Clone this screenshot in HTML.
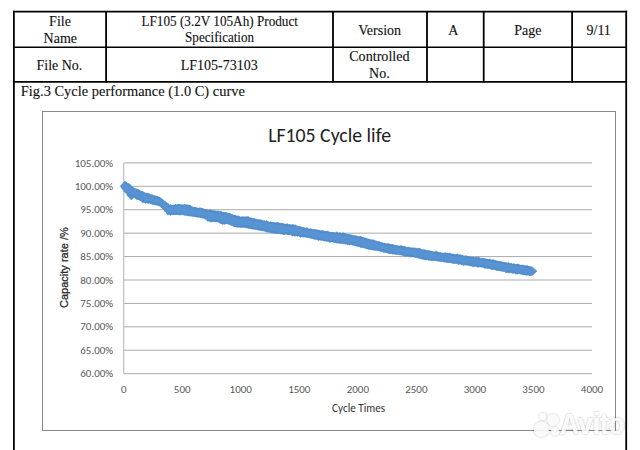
<!DOCTYPE html>
<html><head><meta charset="utf-8"><style>
html,body{margin:0;padding:0;background:#fff;}
body{width:640px;height:450px;overflow:hidden;position:relative;}
svg{position:absolute;left:0;top:0;}
.serif{font-family:"Liberation Serif","Times New Roman",serif;font-size:14px;fill:#111;stroke:#111;stroke-width:0.12px;}
.cal{font-family:Carlito,"Liberation Sans",sans-serif;}
</style></head><body>
<svg width="640" height="450" viewBox="0 0 640 450">
<g stroke="#000" stroke-width="1.8" fill="none">
<line x1="13" y1="11.7" x2="627.2" y2="11.7"/>
<line x1="13.9" y1="10.8" x2="13.9" y2="450"/>
<line x1="626.2" y1="10.8" x2="626.2" y2="450"/>
<line x1="13" y1="47.3" x2="627" y2="47.3" stroke-width="1.6"/>
<line x1="13" y1="81.9" x2="627" y2="81.9"/>
<line x1="106.1" y1="11" x2="106.1" y2="82.5"/>
<line x1="333" y1="11" x2="333" y2="82.5"/>
<line x1="427" y1="11" x2="427" y2="82.5"/>
<line x1="483.7" y1="11" x2="483.7" y2="82.5"/>
<line x1="572.1" y1="11" x2="572.1" y2="82.5"/>
</g>
<g class="serif" text-anchor="middle">
<text x="60" y="25.8">File</text>
<text x="60.3" y="42.6">Name</text>
<text x="219.7" y="26" textLength="156.5" lengthAdjust="spacingAndGlyphs">LF105 (3.2V 105Ah) Product</text>
<text x="219.6" y="41.8" textLength="69" lengthAdjust="spacingAndGlyphs">Specification</text>
<text x="379.7" y="34.6">Version</text>
<text x="453.3" y="34.6">A</text>
<text x="527.8" y="34.6">Page</text>
<text x="598.7" y="34.6">9/11</text>
<text x="59.4" y="69.8">File No.</text>
<text x="219.2" y="69.6">LF105-73103</text>
<text x="379.4" y="60.6" textLength="60.5" lengthAdjust="spacingAndGlyphs">Controlled</text>
<text x="379.4" y="77.5">No.</text>
</g>
<text class="serif" x="20.8" y="96.2" style="font-size:14.4px" textLength="224" lengthAdjust="spacing">Fig.3 Cycle performance (1.0 C) curve</text>
<rect x="42.5" y="111.5" width="573" height="319" fill="none" stroke="#8a8a8a" stroke-width="1"/>
<text class="cal" x="329.6" y="141.9" text-anchor="middle" font-size="19.8" fill="#222" textLength="122.9" lengthAdjust="spacingAndGlyphs">LF105 Cycle life</text>
<g stroke="#aaa" stroke-width="1">
<line x1="123.67" y1="162.90" x2="592" y2="162.90"/><line x1="123.67" y1="186.32" x2="592" y2="186.32"/><line x1="123.67" y1="209.74" x2="592" y2="209.74"/><line x1="123.67" y1="233.16" x2="592" y2="233.16"/><line x1="123.67" y1="256.58" x2="592" y2="256.58"/><line x1="123.67" y1="280.00" x2="592" y2="280.00"/><line x1="123.67" y1="303.42" x2="592" y2="303.42"/><line x1="123.67" y1="326.84" x2="592" y2="326.84"/><line x1="123.67" y1="350.26" x2="592" y2="350.26"/><line x1="123.67" y1="373.68" x2="592" y2="373.68"/>
</g>
<line x1="123.67" y1="162.90" x2="123.67" y2="373.68" stroke="#c2c2c2" stroke-width="1.3"/>
<g class="cal" font-size="11" fill="#595959" text-anchor="end">
<text x="113.2" y="166.50" textLength="38.52" lengthAdjust="spacingAndGlyphs">105.00%</text><text x="113.2" y="189.92" textLength="38.52" lengthAdjust="spacingAndGlyphs">100.00%</text><text x="113.2" y="213.34" textLength="32.94" lengthAdjust="spacingAndGlyphs">95.00%</text><text x="113.2" y="236.76" textLength="32.94" lengthAdjust="spacingAndGlyphs">90.00%</text><text x="113.2" y="260.18" textLength="32.94" lengthAdjust="spacingAndGlyphs">85.00%</text><text x="113.2" y="283.60" textLength="32.94" lengthAdjust="spacingAndGlyphs">80.00%</text><text x="113.2" y="307.02" textLength="32.94" lengthAdjust="spacingAndGlyphs">75.00%</text><text x="113.2" y="330.44" textLength="32.94" lengthAdjust="spacingAndGlyphs">70.00%</text><text x="113.2" y="353.86" textLength="32.94" lengthAdjust="spacingAndGlyphs">65.00%</text><text x="113.2" y="377.28" textLength="32.94" lengthAdjust="spacingAndGlyphs">60.00%</text>
</g>
<g class="cal" font-size="11" fill="#595959" text-anchor="middle">
<text x="123.67" y="393.2" textLength="5.58" lengthAdjust="spacingAndGlyphs">0</text><text x="182.21" y="393.2" textLength="16.73" lengthAdjust="spacingAndGlyphs">500</text><text x="240.75" y="393.2" textLength="22.3" lengthAdjust="spacingAndGlyphs">1000</text><text x="299.29" y="393.2" textLength="22.3" lengthAdjust="spacingAndGlyphs">1500</text><text x="357.83" y="393.2" textLength="22.3" lengthAdjust="spacingAndGlyphs">2000</text><text x="416.38" y="393.2" textLength="22.3" lengthAdjust="spacingAndGlyphs">2500</text><text x="474.92" y="393.2" textLength="22.3" lengthAdjust="spacingAndGlyphs">3000</text><text x="533.46" y="393.2" textLength="22.3" lengthAdjust="spacingAndGlyphs">3500</text><text x="592.00" y="393.2" textLength="22.3" lengthAdjust="spacingAndGlyphs">4000</text>
</g>
<text class="cal" x="358.6" y="411.6" text-anchor="middle" font-size="11.6" fill="#333" textLength="53" lengthAdjust="spacingAndGlyphs">Cycle Times</text>
<text transform="translate(67.7,267.6) rotate(-90)" text-anchor="middle" font-family="Liberation Sans, Arial, sans-serif" font-size="11" fill="#262626" stroke="#262626" stroke-width="0.25">Capacity rate /%</text>
<path d="M120.20 186.30L124.80 181.10L133.75 188.10L143.10 192.30L152.50 195.20L160.00 197.50L165.60 202.20L169.70 205.50L174.40 205.00L179.10 204.50L188.40 205.00L193.10 207.30L202.50 208.75L209.00 210.20L217.50 211.10L222.50 212.25L230.00 213.75L238.75 216.90L245.00 216.90L257.50 219.40L270.00 222.50L280.00 223.10L290.00 225.00L297.50 226.00L307.50 228.75L320.00 230.60L332.50 232.50L345.00 233.75L357.50 236.25L367.50 238.75L377.50 241.50L385.00 243.50L395.00 245.25L407.50 247.50L417.50 248.50L430.00 251.25L440.00 252.75L450.00 253.75L460.00 255.25L470.00 256.90L482.50 258.50L495.00 260.60L507.50 263.10L518.75 265.00L528.10 266.40L532.30 266.90L537.00 271.20L532.30 275.50L526.25 274.80L518.75 273.60L507.50 272.25L495.00 269.75L482.50 267.25L470.00 265.60L457.50 263.75L445.00 261.90L435.00 260.60L423.75 259.40L413.75 256.90L401.25 255.00L388.75 253.10L377.50 250.60L370.00 249.20L362.50 247.50L351.25 244.40L341.25 243.50L332.50 241.90L320.00 240.00L307.50 237.50L300.00 236.25L292.50 235.00L282.50 233.75L272.50 233.10L263.75 231.00L255.00 229.40L245.00 227.50L235.00 226.90L232.50 225.60L227.50 223.75L222.20 223.75L217.50 221.90L209.00 221.00L204.40 218.10L193.10 216.25L183.75 214.80L174.40 214.40L167.80 214.80L165.60 211.60L160.00 206.00L152.50 204.00L142.20 201.70L136.60 198.40L128.10 195.20L124.40 191.90ZM126.8 195.3L131.5 190.6L136.2 195.3L131.5 200.0ZM125.2 182.9L126.0 182.1L126.8 182.9L126.0 183.7ZM125.0 192.1L126.1 191.0L127.2 192.1L126.1 193.2ZM126.9 184.0L127.5 183.4L128.1 184.0L127.5 184.7ZM126.8 193.8L127.6 193.0L128.4 193.8L127.6 194.5ZM127.3 184.6L128.6 183.3L129.9 184.6L128.6 185.9ZM128.0 195.1L128.7 194.4L129.4 195.1L128.7 195.9ZM129.0 185.6L130.0 184.6L131.1 185.6L130.0 186.6ZM129.4 195.3L130.1 194.6L130.7 195.3L130.1 195.9ZM130.1 186.4L130.9 185.5L131.8 186.4L130.9 187.2ZM130.4 196.1L131.3 195.1L132.3 196.1L131.3 197.1ZM131.6 187.9L132.8 186.8L133.9 187.9L132.8 189.1ZM131.2 196.7L132.5 195.4L133.7 196.7L132.5 197.9ZM132.3 189.3L133.6 188.0L134.9 189.3L133.6 190.6ZM133.3 196.6L134.1 195.8L134.9 196.6L134.1 197.3ZM133.9 189.4L135.0 188.3L136.1 189.4L135.0 190.5ZM134.1 197.2L135.0 196.3L135.9 197.2L135.0 198.1ZM135.6 189.8L136.6 188.7L137.7 189.8L136.6 190.8ZM135.3 198.2L136.6 196.9L138.0 198.2L136.6 199.6ZM136.4 190.1L137.5 189.0L138.6 190.1L137.5 191.3ZM136.6 198.4L137.9 197.1L139.3 198.4L137.9 199.8ZM137.7 190.8L138.8 189.6L140.0 190.8L138.8 191.9ZM137.8 198.6L138.9 197.5L139.9 198.6L138.9 199.6ZM139.3 192.2L140.6 191.0L141.9 192.2L140.6 193.5ZM139.0 199.5L140.2 198.2L141.5 199.5L140.2 200.7ZM140.9 191.9L141.8 191.0L142.6 191.9L141.8 192.7ZM141.0 200.1L141.7 199.5L142.3 200.1L141.7 200.7ZM141.6 192.5L142.8 191.3L144.0 192.5L142.8 193.6ZM141.5 201.8L142.9 200.4L144.3 201.8L142.9 203.1ZM143.1 193.2L143.9 192.4L144.8 193.2L143.9 194.1ZM143.4 201.3L144.0 200.7L144.6 201.3L144.0 202.0ZM144.2 194.3L145.3 193.2L146.4 194.3L145.3 195.4ZM144.1 202.3L145.4 201.0L146.7 202.3L145.4 203.6ZM145.4 194.2L146.7 192.9L148.0 194.2L146.7 195.5ZM145.9 202.1L146.9 201.1L147.9 202.1L146.9 203.2ZM147.1 194.0L148.2 193.0L149.2 194.0L148.2 195.1ZM147.1 202.6L148.1 201.6L149.1 202.6L148.1 203.6ZM148.5 194.4L149.3 193.6L150.1 194.4L149.3 195.2ZM148.4 202.0L149.4 201.0L150.4 202.0L149.4 203.0ZM149.8 195.9L150.7 195.0L151.7 195.9L150.7 196.9ZM149.7 202.4L150.8 201.3L151.9 202.4L150.8 203.5ZM150.9 195.5L152.0 194.4L153.1 195.5L152.0 196.6ZM151.2 203.5L152.1 202.6L153.0 203.5L152.1 204.4ZM152.4 195.9L153.0 195.3L153.7 195.9L153.0 196.6ZM151.8 203.5L153.2 202.1L154.5 203.5L153.2 204.8ZM153.4 196.7L154.5 195.6L155.6 196.7L154.5 197.8ZM153.7 204.0L154.5 203.1L155.4 204.0L154.5 204.8ZM155.0 196.6L155.8 195.8L156.7 196.6L155.8 197.5ZM155.3 204.5L155.9 203.9L156.6 204.5L155.9 205.1ZM156.2 197.0L157.0 196.1L157.9 197.0L157.0 197.8ZM156.2 204.5L157.0 203.7L157.8 204.5L157.0 205.3ZM157.1 198.0L158.3 196.8L159.4 198.0L158.3 199.1ZM157.8 204.8L158.7 204.0L159.6 204.8L158.7 205.7ZM158.3 198.3L159.6 197.1L160.9 198.3L159.6 199.6ZM158.9 205.2L160.0 204.1L161.2 205.2L160.0 206.3ZM160.1 199.1L160.9 198.3L161.7 199.1L160.9 199.9ZM160.5 206.8L161.3 206.1L162.0 206.8L161.3 207.6ZM161.5 199.8L162.3 199.1L163.0 199.8L162.3 200.6ZM161.5 207.5L162.6 206.4L163.7 207.5L162.6 208.6ZM162.9 201.0L163.6 200.2L164.3 201.0L163.6 201.7ZM162.8 208.9L163.6 208.1L164.4 208.9L163.6 209.7ZM164.0 201.9L164.9 201.0L165.9 201.9L164.9 202.8ZM164.0 210.8L164.7 210.1L165.4 210.8L164.7 211.6ZM165.3 203.5L166.6 202.2L167.9 203.5L166.6 204.8ZM165.2 211.6L166.6 210.2L167.9 211.6L166.6 212.9ZM166.6 204.3L167.8 203.1L169.0 204.3L167.8 205.5ZM166.5 213.6L167.5 212.6L168.5 213.6L167.5 214.6ZM167.9 205.4L168.6 204.7L169.4 205.4L168.6 206.2ZM168.3 213.5L169.1 212.7L169.9 213.5L169.1 214.3ZM169.0 205.6L170.3 204.3L171.6 205.6L170.3 207.0ZM169.1 214.0L170.4 212.7L171.8 214.0L170.4 215.4ZM171.0 206.4L171.6 205.8L172.3 206.4L171.6 207.0ZM170.8 213.9L171.6 213.1L172.4 213.9L171.6 214.7ZM172.1 205.7L173.1 204.8L174.0 205.7L173.1 206.7ZM171.8 214.2L172.7 213.4L173.5 214.2L172.7 215.1ZM173.3 205.9L174.3 204.9L175.3 205.9L174.3 206.9ZM173.4 214.1L174.1 213.3L174.9 214.1L174.1 214.9ZM174.8 205.1L175.6 204.4L176.3 205.1L175.6 205.8ZM174.3 213.2L175.6 211.9L176.8 213.2L175.6 214.4ZM175.8 206.0L176.9 204.9L178.0 206.0L176.9 207.1ZM175.7 213.8L176.6 213.0L177.4 213.8L176.6 214.6ZM177.0 205.0L178.0 204.0L178.9 205.0L178.0 205.9ZM177.1 213.4L177.7 212.8L178.3 213.4L177.7 214.0ZM178.3 204.6L179.0 203.9L179.7 204.6L179.0 205.3ZM177.8 213.9L179.1 212.6L180.3 213.9L179.1 215.2ZM179.6 205.5L180.5 204.6L181.3 205.5L180.5 206.3ZM179.5 213.8L180.7 212.7L181.8 213.8L180.7 214.9ZM181.0 205.8L181.8 205.0L182.6 205.8L181.8 206.6ZM181.0 213.9L182.0 212.8L183.1 213.9L182.0 214.9ZM182.3 205.6L183.0 204.9L183.7 205.6L183.0 206.2ZM182.3 213.9L183.4 212.8L184.5 213.9L183.4 215.0ZM183.3 205.6L184.6 204.3L185.8 205.6L184.6 206.8ZM183.6 214.5L184.5 213.6L185.4 214.5L184.5 215.4ZM185.0 205.6L185.9 204.7L186.9 205.6L185.9 206.5ZM185.0 214.7L185.8 213.9L186.6 214.7L185.8 215.4ZM186.4 205.7L187.1 205.1L187.7 205.7L187.1 206.4ZM186.1 214.5L187.4 213.2L188.7 214.5L187.4 215.8ZM187.3 206.0L188.6 204.7L189.9 206.0L188.6 207.3ZM187.2 215.2L188.2 214.2L189.1 215.2L188.2 216.2ZM188.8 206.0L189.9 204.9L191.1 206.0L189.9 207.1ZM188.7 215.1L189.8 214.0L191.0 215.1L189.8 216.2ZM190.4 207.6L191.1 206.9L191.7 207.6L191.1 208.2ZM190.4 214.7L191.2 214.0L191.9 214.7L191.2 215.4ZM191.4 207.2L192.1 206.5L192.7 207.2L192.1 207.8ZM191.3 215.8L192.0 215.1L192.8 215.8L192.0 216.6ZM193.1 207.9L193.8 207.2L194.5 207.9L193.8 208.6ZM192.6 215.7L193.9 214.5L195.1 215.7L193.9 217.0ZM193.4 208.0L194.6 206.7L195.9 208.0L194.6 209.2ZM194.0 215.4L195.0 214.4L196.0 215.4L195.0 216.4ZM195.3 209.0L196.5 207.8L197.7 209.0L196.5 210.2ZM195.4 216.5L196.2 215.6L197.1 216.5L196.2 217.3ZM196.5 209.0L197.3 208.2L198.1 209.0L197.3 209.8ZM196.6 216.1L197.7 215.1L198.7 216.1L197.7 217.2ZM197.8 209.1L198.7 208.2L199.6 209.1L198.7 210.0ZM197.6 216.5L198.5 215.5L199.5 216.5L198.5 217.4ZM198.7 208.8L200.0 207.4L201.4 208.8L200.0 210.2ZM199.5 217.0L200.2 216.3L200.9 217.0L200.2 217.7ZM200.3 209.3L201.4 208.2L202.5 209.3L201.4 210.4ZM200.5 216.5L201.6 215.4L202.8 216.5L201.6 217.6ZM202.2 209.0L202.8 208.3L203.5 209.0L202.8 209.7ZM201.7 217.4L202.7 216.4L203.7 217.4L202.7 218.4ZM203.1 210.1L203.9 209.4L204.6 210.1L203.9 210.9ZM202.8 217.0L203.9 215.9L205.0 217.0L203.9 218.1ZM204.4 210.3L205.6 209.2L206.7 210.3L205.6 211.5ZM204.1 218.4L205.2 217.2L206.4 218.4L205.2 219.6ZM205.4 210.7L206.5 209.6L207.5 210.7L206.5 211.8ZM206.0 218.6L206.6 218.0L207.2 218.6L206.6 219.3ZM207.1 210.9L207.8 210.1L208.6 210.9L207.8 211.6ZM206.5 220.2L207.7 219.0L208.9 220.2L207.7 221.4ZM208.3 211.0L209.3 210.0L210.2 211.0L209.3 211.9ZM208.1 220.4L209.4 219.1L210.7 220.4L209.4 221.7ZM209.6 210.6L210.6 209.6L211.6 210.6L210.6 211.6ZM209.7 221.0L210.6 220.1L211.6 221.0L210.6 221.9ZM210.7 211.5L211.6 210.5L212.6 211.5L211.6 212.5ZM210.7 221.1L211.9 220.0L213.1 221.1L211.9 222.3ZM211.7 211.7L212.9 210.4L214.2 211.7L212.9 213.0ZM212.1 221.0L212.9 220.2L213.7 221.0L212.9 221.8ZM213.4 211.8L214.6 210.5L215.9 211.8L214.6 213.1ZM213.0 220.8L214.3 219.5L215.6 220.8L214.3 222.1ZM214.3 212.1L215.5 210.9L216.6 212.1L215.5 213.3ZM214.3 220.8L215.6 219.6L216.8 220.8L215.6 222.1ZM216.0 212.3L217.1 211.3L218.2 212.3L217.1 213.4ZM216.1 221.1L217.0 220.3L217.8 221.1L217.0 222.0ZM217.6 211.4L218.4 210.7L219.1 211.4L218.4 212.2ZM217.4 221.1L218.3 220.1L219.2 221.1L218.3 222.0ZM218.9 212.7L219.7 211.9L220.5 212.7L219.7 213.6ZM218.5 221.5L219.8 220.2L221.2 221.5L219.8 222.9ZM219.5 212.3L220.8 210.9L222.2 212.3L220.8 213.6ZM219.6 222.7L220.8 221.5L222.0 222.7L220.8 224.0ZM221.3 213.2L222.4 212.0L223.5 213.2L222.4 214.3ZM221.3 223.3L222.5 222.1L223.7 223.3L222.5 224.5ZM222.2 213.2L223.3 212.1L224.3 213.2L223.3 214.2ZM222.7 223.3L223.6 222.4L224.5 223.3L223.6 224.1ZM223.6 213.2L224.6 212.2L225.7 213.2L224.6 214.3ZM223.5 223.5L224.6 222.4L225.7 223.5L224.6 224.6ZM224.7 213.2L225.9 212.0L227.0 213.2L225.9 214.3ZM225.3 223.3L226.0 222.6L226.7 223.3L226.0 224.0ZM226.4 213.8L227.4 212.7L228.5 213.8L227.4 214.8ZM226.3 222.7L227.3 221.7L228.3 222.7L227.3 223.6ZM228.2 213.9L228.8 213.2L229.5 213.9L228.8 214.5ZM227.8 223.3L228.8 222.3L229.9 223.3L228.8 224.4ZM229.1 214.0L229.9 213.2L230.7 214.0L229.9 214.8ZM229.4 223.7L230.0 223.0L230.6 223.7L230.0 224.3ZM230.0 215.1L231.2 213.9L232.4 215.1L231.2 216.3ZM230.4 224.8L231.3 223.9L232.2 224.8L231.3 225.7ZM231.9 215.9L232.8 215.0L233.7 215.9L232.8 216.7ZM231.5 224.5L232.4 223.7L233.2 224.5L232.4 225.3ZM232.8 216.2L234.0 215.0L235.3 216.2L234.0 217.5ZM233.1 225.9L233.8 225.2L234.6 225.9L233.8 226.7ZM234.1 216.2L235.3 215.0L236.6 216.2L235.3 217.5ZM234.4 225.8L235.1 225.1L235.9 225.8L235.1 226.6ZM235.5 217.1L236.5 216.1L237.6 217.1L236.5 218.2ZM235.9 225.7L236.7 224.9L237.5 225.7L236.7 226.5ZM236.8 216.7L238.0 215.5L239.3 216.7L238.0 218.0ZM236.9 226.5L237.8 225.6L238.7 226.5L237.8 227.4ZM238.3 217.4L239.4 216.3L240.5 217.4L239.4 218.5ZM238.5 226.4L239.3 225.6L240.2 226.4L239.3 227.3ZM239.5 218.2L240.5 217.1L241.6 218.2L240.5 219.3ZM239.3 226.5L240.5 225.3L241.7 226.5L240.5 227.7ZM240.7 218.0L241.7 216.9L242.7 218.0L241.7 219.0ZM240.4 226.6L241.4 225.6L242.4 226.6L241.4 227.6ZM241.8 217.5L243.0 216.4L244.1 217.5L243.0 218.6ZM241.9 226.2L243.2 224.9L244.6 226.2L243.2 227.6ZM243.1 218.1L244.4 216.9L245.6 218.1L244.4 219.4ZM243.3 226.3L244.1 225.4L245.0 226.3L244.1 227.1ZM244.8 217.9L245.9 216.9L246.9 217.9L245.9 219.0ZM244.4 226.5L245.7 225.2L247.0 226.5L245.7 227.8ZM245.7 217.5L247.0 216.2L248.2 217.5L247.0 218.8ZM245.9 227.0L247.0 225.8L248.2 227.0L247.0 228.1ZM247.2 217.8L248.5 216.6L249.7 217.8L248.5 219.1ZM247.4 227.4L248.4 226.4L249.3 227.4L248.4 228.3ZM248.5 219.0L249.2 218.3L249.9 219.0L249.2 219.7ZM248.5 227.7L249.3 226.9L250.1 227.7L249.3 228.4ZM249.7 218.9L250.8 217.7L252.0 218.9L250.8 220.0ZM249.6 227.9L250.7 226.7L251.8 227.9L250.7 229.0ZM250.8 219.4L252.0 218.2L253.2 219.4L252.0 220.6ZM250.9 228.0L252.2 226.7L253.6 228.0L252.2 229.3ZM252.5 219.2L253.4 218.3L254.3 219.2L253.4 220.1ZM252.3 228.0L253.1 227.3L253.9 228.0L253.1 228.8ZM253.3 219.6L254.5 218.4L255.7 219.6L254.5 220.8ZM253.8 228.2L254.5 227.5L255.3 228.2L254.5 229.0ZM254.9 220.4L255.8 219.4L256.7 220.4L255.8 221.3ZM255.1 228.9L255.8 228.2L256.5 228.9L255.8 229.6ZM256.4 220.1L257.0 219.5L257.7 220.1L257.0 220.8ZM256.5 228.6L257.4 227.7L258.3 228.6L257.4 229.5ZM257.6 220.9L258.5 220.0L259.5 220.9L258.5 221.9ZM257.1 228.9L258.4 227.5L259.8 228.9L258.4 230.2ZM258.7 220.5L259.7 219.6L260.7 220.5L259.7 221.5ZM258.8 229.1L259.7 228.2L260.6 229.1L259.7 229.9ZM259.9 220.7L261.1 219.5L262.2 220.7L261.1 221.9ZM260.5 229.6L261.5 228.6L262.4 229.6L261.5 230.6ZM261.6 221.0L262.4 220.2L263.2 221.0L262.4 221.8ZM261.3 229.6L262.4 228.5L263.5 229.6L262.4 230.7ZM262.9 221.6L264.1 220.4L265.2 221.6L264.1 222.7ZM262.9 229.8L263.5 229.2L264.1 229.8L263.5 230.4ZM264.1 222.5L264.8 221.8L265.6 222.5L264.8 223.3ZM264.2 230.3L265.3 229.1L266.5 230.3L265.3 231.4ZM265.0 221.9L266.4 220.6L267.8 221.9L266.4 223.3ZM265.3 230.4L266.7 229.0L268.0 230.4L266.7 231.7ZM266.9 222.1L267.8 221.2L268.6 222.1L267.8 222.9ZM266.9 231.7L267.6 231.0L268.2 231.7L267.6 232.3ZM268.2 223.2L268.9 222.5L269.6 223.2L268.9 223.8ZM268.1 231.2L269.3 230.0L270.4 231.2L269.3 232.3ZM269.2 222.8L270.4 221.6L271.6 222.8L270.4 224.0ZM269.5 231.7L270.6 230.7L271.6 231.7L270.6 232.8ZM270.5 223.0L271.4 222.0L272.4 223.0L271.4 223.9ZM270.5 231.8L271.5 230.8L272.4 231.8L271.5 232.8ZM271.8 223.1L273.0 221.9L274.1 223.1L273.0 224.3ZM272.0 232.0L272.9 231.1L273.8 232.0L272.9 232.9ZM272.7 223.5L273.9 222.3L275.1 223.5L273.9 224.7ZM273.1 232.0L274.3 230.8L275.5 232.0L274.3 233.2ZM274.9 223.4L275.7 222.6L276.5 223.4L275.7 224.1ZM274.4 232.5L275.7 231.2L277.0 232.5L275.7 233.8ZM275.6 223.8L276.9 222.5L278.3 223.8L276.9 225.1ZM275.6 232.6L276.5 231.7L277.4 232.6L276.5 233.5ZM276.5 223.6L277.9 222.2L279.2 223.6L277.9 225.0ZM277.2 232.9L277.8 232.3L278.5 232.9L277.8 233.6ZM278.3 224.2L279.1 223.4L279.9 224.2L279.1 225.0ZM278.3 232.3L279.5 231.1L280.6 232.3L279.5 233.4ZM280.2 224.3L281.0 223.5L281.8 224.3L281.0 225.1ZM279.6 233.3L280.7 232.2L281.7 233.3L280.7 234.3ZM281.1 224.1L282.2 223.1L283.3 224.1L282.2 225.2ZM281.1 232.5L281.8 231.8L282.6 232.5L281.8 233.3ZM281.8 225.0L283.1 223.7L284.3 225.0L283.1 226.3ZM281.7 233.6L283.1 232.2L284.5 233.6L283.1 235.0ZM283.9 225.0L284.6 224.3L285.2 225.0L284.6 225.7ZM283.4 233.5L284.7 232.2L285.9 233.5L284.7 234.7ZM284.9 225.1L286.1 223.9L287.3 225.1L286.1 226.3ZM284.8 233.0L285.9 231.9L286.9 233.0L285.9 234.1ZM286.0 224.8L287.3 223.5L288.5 224.8L287.3 226.1ZM286.5 233.6L287.2 232.8L288.0 233.6L287.2 234.4ZM287.1 225.6L288.2 224.4L289.4 225.6L288.2 226.8ZM287.3 233.9L288.2 232.9L289.2 233.9L288.2 234.9ZM288.6 225.5L289.8 224.3L290.9 225.5L289.8 226.7ZM288.5 233.8L289.6 232.7L290.7 233.8L289.6 234.9ZM289.6 225.9L291.0 224.5L292.4 225.9L291.0 227.3ZM290.3 233.7L290.9 233.1L291.6 233.7L290.9 234.4ZM291.2 225.6L292.5 224.2L293.9 225.6L292.5 226.9ZM291.1 234.8L292.5 233.4L293.9 234.8L292.5 236.2ZM292.6 225.7L293.7 224.6L294.7 225.7L293.7 226.7ZM292.6 234.5L294.0 233.2L295.3 234.5L294.0 235.8ZM293.7 225.8L294.9 224.6L296.2 225.8L294.9 227.0ZM293.5 235.2L294.9 233.9L296.2 235.2L294.9 236.6ZM295.3 226.3L296.1 225.5L296.8 226.3L296.1 227.0ZM295.5 235.1L296.3 234.3L297.1 235.1L296.3 235.9ZM297.1 227.0L297.7 226.4L298.4 227.0L297.7 227.6ZM296.6 235.4L297.5 234.5L298.5 235.4L297.5 236.4ZM297.6 227.6L298.8 226.4L300.0 227.6L298.8 228.8ZM298.0 234.9L298.8 234.0L299.7 234.9L298.8 235.7ZM299.6 227.2L300.4 226.5L301.1 227.2L300.4 227.9ZM299.1 236.0L300.5 234.7L301.9 236.0L300.5 237.4ZM300.4 228.0L301.3 227.1L302.2 228.0L301.3 228.9ZM300.5 235.9L301.5 234.9L302.5 235.9L301.5 236.8ZM302.1 228.4L303.0 227.5L303.9 228.4L303.0 229.3ZM302.1 236.4L303.0 235.4L304.0 236.4L303.0 237.4ZM303.1 228.1L303.9 227.3L304.8 228.1L303.9 229.0ZM303.3 236.3L303.9 235.7L304.5 236.3L303.9 236.9ZM304.2 229.4L305.2 228.4L306.2 229.4L305.2 230.4ZM304.8 236.4L305.6 235.6L306.3 236.4L305.6 237.2ZM305.5 228.7L306.9 227.3L308.3 228.7L306.9 230.0ZM305.9 236.1L306.5 235.5L307.1 236.1L306.5 236.7ZM307.0 230.1L307.9 229.1L308.8 230.1L307.9 231.0ZM306.7 236.7L307.8 235.6L308.8 236.7L307.8 237.7ZM308.7 229.8L309.5 229.0L310.3 229.8L309.5 230.6ZM308.2 237.1L309.0 236.3L309.8 237.1L309.0 237.9ZM309.6 229.4L310.7 228.3L311.8 229.4L310.7 230.5ZM309.2 237.0L310.4 235.7L311.7 237.0L310.4 238.2ZM310.9 230.1L312.1 228.9L313.3 230.1L312.1 231.3ZM310.7 237.4L311.9 236.2L313.2 237.4L311.9 238.7ZM312.2 230.1L312.9 229.4L313.6 230.1L312.9 230.9ZM312.1 237.9L313.4 236.6L314.8 237.9L313.4 239.2ZM313.6 230.1L314.8 229.0L315.9 230.1L314.8 231.2ZM313.4 238.2L314.4 237.1L315.5 238.2L314.4 239.3ZM314.9 230.5L315.6 229.7L316.3 230.5L315.6 231.2ZM314.4 238.3L315.8 237.0L317.2 238.3L315.8 239.7ZM316.2 230.5L317.1 229.6L318.0 230.5L317.1 231.4ZM316.4 238.3L317.4 237.3L318.3 238.3L317.4 239.3ZM317.6 231.2L318.4 230.3L319.3 231.2L318.4 232.0ZM317.3 239.5L318.6 238.2L319.9 239.5L318.6 240.8ZM318.3 231.2L319.4 230.1L320.5 231.2L319.4 232.3ZM318.7 239.0L319.7 237.9L320.7 239.0L319.7 240.0ZM320.1 231.9L321.2 230.8L322.4 231.9L321.2 233.1ZM319.8 239.5L320.9 238.3L322.1 239.5L320.9 240.6ZM321.3 231.5L322.6 230.2L323.9 231.5L322.6 232.8ZM321.8 239.3L322.6 238.5L323.3 239.3L322.6 240.0ZM322.9 232.1L323.8 231.2L324.7 232.1L323.8 233.0ZM323.1 240.4L323.9 239.6L324.7 240.4L323.9 241.2ZM324.0 232.3L324.8 231.5L325.7 232.3L324.8 233.2ZM324.0 240.6L324.8 239.9L325.5 240.6L324.8 241.3ZM325.4 232.6L326.0 231.9L326.7 232.6L326.0 233.3ZM325.6 240.5L326.2 239.9L326.9 240.5L326.2 241.2ZM326.3 232.1L327.6 230.8L328.8 232.1L327.6 233.3ZM326.8 241.0L327.4 240.4L328.0 241.0L327.4 241.6ZM328.0 232.7L328.7 232.0L329.3 232.7L328.7 233.3ZM328.0 240.1L328.8 239.3L329.6 240.1L328.8 240.9ZM329.6 233.3L330.4 232.5L331.2 233.3L330.4 234.1ZM328.6 241.4L329.9 240.1L331.2 241.4L329.9 242.8ZM330.3 233.5L331.5 232.3L332.6 233.5L331.5 234.6ZM330.9 240.6L331.6 240.0L332.2 240.6L331.6 241.3ZM332.1 232.8L332.9 232.0L333.6 232.8L332.9 233.5ZM332.3 241.3L333.0 240.6L333.6 241.3L333.0 241.9ZM332.9 233.5L333.8 232.6L334.7 233.5L333.8 234.4ZM332.5 241.0L333.9 239.6L335.3 241.0L333.9 242.4ZM334.4 233.7L335.1 232.9L335.8 233.7L335.1 234.4ZM333.7 241.3L335.0 240.0L336.4 241.3L335.0 242.7ZM335.5 233.0L336.9 231.7L338.2 233.0L336.9 234.4ZM335.7 242.5L336.5 241.7L337.3 242.5L336.5 243.3ZM337.0 234.0L338.0 233.0L339.0 234.0L338.0 235.0ZM337.2 242.5L337.8 241.9L338.4 242.5L337.8 243.1ZM338.0 233.9L339.2 232.7L340.5 233.9L339.2 235.1ZM338.1 242.5L339.2 241.4L340.2 242.5L339.2 243.5ZM339.1 233.9L340.3 232.6L341.6 233.9L340.3 235.2ZM339.4 242.3L340.7 240.9L342.1 242.3L340.7 243.6ZM340.6 234.5L342.0 233.2L343.4 234.5L342.0 235.9ZM340.8 242.3L341.6 241.5L342.4 242.3L341.6 243.1ZM341.7 233.8L343.0 232.4L344.4 233.8L343.0 235.2ZM342.1 243.4L342.8 242.7L343.5 243.4L342.8 244.1ZM343.5 234.2L344.7 232.9L345.9 234.2L344.7 235.4ZM343.5 242.6L344.6 241.6L345.6 242.6L344.6 243.6ZM344.6 235.0L345.7 234.0L346.7 235.0L345.7 236.0ZM344.5 243.2L345.6 242.1L346.7 243.2L345.6 244.3ZM346.0 235.0L346.9 234.1L347.8 235.0L346.9 235.9ZM346.2 243.8L347.3 242.8L348.4 243.8L347.3 244.9ZM347.2 235.4L348.5 234.1L349.8 235.4L348.5 236.7ZM346.8 243.0L348.2 241.6L349.5 243.0L348.2 244.4ZM348.7 235.6L349.7 234.6L350.7 235.6L349.7 236.6ZM348.4 244.1L349.5 243.0L350.6 244.1L349.5 245.2ZM349.9 235.6L350.9 234.6L351.8 235.6L350.9 236.6ZM349.9 243.7L351.2 242.4L352.5 243.7L351.2 245.0ZM351.3 236.4L352.3 235.5L353.2 236.4L352.3 237.4ZM351.5 244.3L352.4 243.4L353.3 244.3L352.4 245.2ZM353.1 236.3L353.7 235.6L354.4 236.3L353.7 236.9ZM352.0 244.0L353.4 242.6L354.8 244.0L353.4 245.4ZM354.0 236.5L355.0 235.5L356.1 236.5L355.0 237.5ZM353.6 244.5L354.9 243.2L356.2 244.5L354.9 245.8ZM355.3 236.8L356.1 236.0L356.9 236.8L356.1 237.6ZM355.3 245.5L356.2 244.6L357.1 245.5L356.2 246.4ZM356.1 237.3L357.2 236.2L358.3 237.3L357.2 238.3ZM356.6 245.0L357.5 244.1L358.4 245.0L357.5 245.9ZM357.9 237.5L358.6 236.8L359.3 237.5L358.6 238.2ZM358.1 246.3L358.7 245.6L359.3 246.3L358.7 246.9ZM359.1 237.2L360.1 236.2L361.2 237.2L360.1 238.2ZM359.0 246.0L360.2 244.8L361.5 246.0L360.2 247.3ZM359.9 237.4L361.1 236.3L362.2 237.4L361.1 238.6ZM360.4 246.9L361.3 246.0L362.2 246.9L361.3 247.8ZM361.6 237.8L362.4 237.0L363.2 237.8L362.4 238.7ZM361.3 246.3L362.4 245.2L363.4 246.3L362.4 247.3ZM362.7 238.2L363.6 237.3L364.5 238.2L363.6 239.0ZM363.0 247.0L363.8 246.2L364.5 247.0L363.8 247.7ZM364.2 238.7L365.2 237.7L366.2 238.7L365.2 239.7ZM364.0 246.9L365.2 245.8L366.3 246.9L365.2 248.1ZM365.2 239.7L366.6 238.3L368.0 239.7L366.6 241.1ZM365.7 248.3L366.7 247.3L367.6 248.3L366.7 249.3ZM366.9 239.6L367.5 238.9L368.2 239.6L367.5 240.2ZM367.1 248.4L368.0 247.5L369.0 248.4L368.0 249.3ZM368.2 239.8L369.1 238.9L369.9 239.8L369.1 240.7ZM367.6 248.2L368.9 246.9L370.2 248.2L368.9 249.5ZM369.8 240.8L370.5 240.1L371.2 240.8L370.5 241.5ZM369.1 248.7L370.4 247.3L371.8 248.7L370.4 250.0ZM370.9 240.6L371.5 240.0L372.2 240.6L371.5 241.3ZM370.4 248.6L371.7 247.3L373.0 248.6L371.7 249.8ZM371.7 240.9L373.1 239.5L374.5 240.9L373.1 242.3ZM372.1 249.5L372.9 248.8L373.6 249.5L372.9 250.3ZM373.6 241.2L374.3 240.5L375.0 241.2L374.3 241.9ZM373.6 249.8L374.5 248.9L375.3 249.8L374.5 250.7ZM374.5 242.0L375.7 240.7L377.0 242.0L375.7 243.3ZM374.9 249.3L375.6 248.7L376.2 249.3L375.6 250.0ZM376.4 242.4L377.1 241.6L377.9 242.4L377.1 243.1ZM375.9 249.3L377.2 248.1L378.4 249.3L377.2 250.6ZM376.8 242.7L378.1 241.4L379.5 242.7L378.1 244.1ZM377.2 250.1L377.9 249.3L378.7 250.1L377.9 250.8ZM378.8 242.3L379.7 241.4L380.6 242.3L379.7 243.2ZM378.8 250.2L379.4 249.6L380.1 250.2L379.4 250.9ZM379.9 243.4L380.7 242.6L381.4 243.4L380.7 244.1ZM379.5 250.2L380.7 249.0L381.9 250.2L380.7 251.3ZM381.3 243.3L382.1 242.6L382.8 243.3L382.1 244.1ZM381.4 250.6L382.2 249.8L383.0 250.6L382.2 251.4ZM382.3 244.2L383.5 243.0L384.6 244.2L383.5 245.3ZM382.1 251.3L383.3 250.1L384.5 251.3L383.3 252.5ZM383.7 244.2L384.8 243.1L385.9 244.2L384.8 245.3ZM384.2 251.9L384.9 251.3L385.5 251.9L384.9 252.6ZM385.1 244.7L386.0 243.7L387.0 244.7L386.0 245.6ZM384.8 251.5L386.1 250.1L387.4 251.5L386.1 252.8ZM386.3 244.8L387.6 243.5L388.8 244.8L387.6 246.0ZM385.9 251.7L387.3 250.3L388.7 251.7L387.3 253.1ZM387.3 244.6L388.5 243.4L389.7 244.6L388.5 245.7ZM387.3 252.4L388.4 251.3L389.4 252.4L388.4 253.5ZM388.6 245.0L389.9 243.7L391.2 245.0L389.9 246.3ZM388.6 252.6L389.9 251.3L391.2 252.6L389.9 253.9ZM390.3 245.6L391.4 244.6L392.5 245.6L391.4 246.7ZM390.7 252.8L391.4 252.2L392.0 252.8L391.4 253.5ZM391.9 245.1L392.7 244.2L393.6 245.1L392.7 245.9ZM391.8 253.4L392.8 252.3L393.8 253.4L392.8 254.4ZM392.5 246.3L393.7 245.1L394.9 246.3L393.7 247.5ZM392.8 253.0L393.9 251.8L395.1 253.0L393.9 254.1ZM394.2 246.3L395.1 245.3L396.1 246.3L395.1 247.3ZM394.0 253.2L395.1 252.1L396.3 253.2L395.1 254.4ZM395.7 246.4L396.4 245.7L397.1 246.4L396.4 247.1ZM395.0 253.4L396.2 252.3L397.4 253.4L396.2 254.6ZM396.9 246.3L397.6 245.6L398.4 246.3L397.6 247.1ZM396.7 253.7L397.4 253.1L398.1 253.7L397.4 254.4ZM398.2 247.1L399.0 246.3L399.8 247.1L399.0 247.8ZM398.3 254.5L399.0 253.8L399.7 254.5L399.0 255.1ZM399.0 247.0L400.3 245.7L401.6 247.0L400.3 248.3ZM399.5 253.9L400.2 253.3L400.8 253.9L400.2 254.6ZM400.0 246.6L401.4 245.2L402.7 246.6L401.4 248.0ZM400.6 254.1L401.6 253.1L402.5 254.1L401.6 255.0ZM401.3 247.3L402.7 245.9L404.1 247.3L402.7 248.7ZM401.7 254.2L402.7 253.2L403.7 254.2L402.7 255.2ZM403.0 247.3L404.4 245.9L405.8 247.3L404.4 248.7ZM402.6 255.0L404.0 253.7L405.3 255.0L404.0 256.3ZM404.1 247.9L405.3 246.7L406.5 247.9L405.3 249.1ZM404.0 255.3L405.4 253.9L406.8 255.3L405.4 256.6ZM406.2 248.4L406.9 247.6L407.6 248.4L406.9 249.1ZM405.7 255.6L406.7 254.6L407.7 255.6L406.7 256.6ZM406.9 248.0L408.1 246.8L409.3 248.0L408.1 249.2ZM407.3 255.1L408.3 254.1L409.2 255.1L408.3 256.0ZM408.4 248.5L409.5 247.5L410.5 248.5L409.5 249.6ZM408.6 255.7L409.2 255.1L409.8 255.7L409.2 256.3ZM410.1 248.5L410.9 247.7L411.6 248.5L410.9 249.3ZM409.5 256.0L410.9 254.6L412.3 256.0L410.9 257.4ZM410.8 248.6L411.7 247.7L412.6 248.6L411.7 249.5ZM411.1 255.6L412.3 254.4L413.4 255.6L412.3 256.8ZM412.9 248.5L413.6 247.8L414.3 248.5L413.6 249.2ZM412.5 255.7L413.4 254.7L414.4 255.7L413.4 256.7ZM413.7 248.8L414.7 247.8L415.7 248.8L414.7 249.8ZM413.7 256.6L414.4 255.8L415.1 256.6L414.4 257.3ZM414.4 249.6L415.7 248.3L417.0 249.6L415.7 250.9ZM415.4 256.6L416.1 255.9L416.7 256.6L416.1 257.3ZM416.5 249.0L417.5 248.1L418.5 249.0L417.5 250.0ZM416.5 256.5L417.3 255.7L418.1 256.5L417.3 257.3ZM417.8 249.8L418.6 249.0L419.4 249.8L418.6 250.6ZM417.9 257.2L418.5 256.6L419.1 257.2L418.5 257.8ZM418.2 249.3L419.6 248.0L420.9 249.3L419.6 250.7ZM419.1 257.6L420.0 256.7L420.9 257.6L420.0 258.6ZM419.9 250.3L421.0 249.2L422.1 250.3L421.0 251.5ZM420.3 257.9L421.3 256.9L422.2 257.9L421.3 258.8ZM421.6 250.8L422.3 250.0L423.1 250.8L422.3 251.5ZM421.6 258.4L422.4 257.6L423.3 258.4L422.4 259.3ZM422.5 251.1L423.6 250.1L424.7 251.1L423.6 252.2ZM423.0 258.3L423.6 257.7L424.2 258.3L423.6 258.9ZM423.8 250.5L424.9 249.5L425.9 250.5L424.9 251.6ZM424.0 259.1L425.1 258.0L426.2 259.1L425.1 260.2ZM425.2 251.4L426.3 250.3L427.3 251.4L426.3 252.4ZM425.8 259.0L426.5 258.3L427.1 259.0L426.5 259.6ZM427.2 251.3L427.9 250.6L428.5 251.3L427.9 252.0ZM426.5 258.7L427.6 257.6L428.7 258.7L427.6 259.8ZM427.3 251.9L428.7 250.5L430.1 251.9L428.7 253.3ZM427.3 259.2L428.7 257.8L430.1 259.2L428.7 260.6ZM429.1 251.5L430.0 250.5L431.0 251.5L430.0 252.5ZM429.0 259.4L429.9 258.4L430.8 259.4L429.9 260.3ZM431.0 251.7L431.6 251.1L432.2 251.7L431.6 252.3ZM429.9 259.7L431.2 258.4L432.6 259.7L431.2 261.1ZM431.9 252.6L432.8 251.8L433.6 252.6L432.8 253.5ZM431.7 259.8L432.6 259.0L433.4 259.8L432.6 260.7ZM433.7 253.1L434.4 252.4L435.0 253.1L434.4 253.8ZM432.5 259.3L433.9 257.9L435.3 259.3L433.9 260.7ZM434.2 252.4L435.4 251.2L436.6 252.4L435.4 253.6ZM434.5 259.5L435.5 258.4L436.5 259.5L435.5 260.5ZM435.6 252.4L436.7 251.3L437.8 252.4L436.7 253.5ZM435.8 260.3L436.4 259.7L437.0 260.3L436.4 260.9ZM436.6 252.9L438.0 251.6L439.3 252.9L438.0 254.2ZM436.9 260.2L437.9 259.2L439.0 260.2L437.9 261.3ZM437.9 253.6L439.0 252.5L440.1 253.6L439.0 254.7ZM438.0 260.4L439.2 259.2L440.3 260.4L439.2 261.6ZM439.7 253.3L440.5 252.5L441.3 253.3L440.5 254.1ZM439.7 260.6L440.9 259.4L442.1 260.6L440.9 261.8ZM441.0 254.2L441.8 253.4L442.6 254.2L441.8 254.9ZM441.2 260.9L442.0 260.1L442.7 260.9L442.0 261.7ZM442.2 254.3L443.0 253.5L443.8 254.3L443.0 255.0ZM442.5 260.7L443.2 259.9L443.9 260.7L443.2 261.4ZM443.2 254.1L444.5 252.8L445.8 254.1L444.5 255.4ZM443.3 261.4L444.2 260.5L445.2 261.4L444.2 262.4ZM444.5 253.8L445.7 252.6L446.9 253.8L445.7 255.0ZM444.8 261.0L445.6 260.2L446.4 261.0L445.6 261.8ZM446.4 254.0L447.2 253.2L447.9 254.0L447.2 254.7ZM445.7 261.8L446.9 260.6L448.0 261.8L446.9 263.0ZM447.3 254.3L448.3 253.3L449.3 254.3L448.3 255.3ZM447.3 261.6L448.2 260.6L449.2 261.6L448.2 262.5ZM448.7 253.9L449.8 252.8L450.9 253.9L449.8 255.0ZM449.2 262.3L449.9 261.5L450.7 262.3L449.9 263.0ZM450.1 255.0L451.3 253.9L452.5 255.0L451.3 256.2ZM450.0 261.6L451.2 260.4L452.5 261.6L451.2 262.9ZM451.5 255.0L452.6 254.0L453.6 255.0L452.6 256.1ZM451.3 262.2L452.5 260.9L453.8 262.2L452.5 263.5ZM452.7 254.6L453.4 253.9L454.1 254.6L453.4 255.3ZM452.6 262.4L453.5 261.5L454.4 262.4L453.5 263.3ZM453.4 255.8L454.8 254.4L456.1 255.8L454.8 257.1ZM453.4 262.5L454.8 261.2L456.1 262.5L454.8 263.9ZM454.7 255.9L456.1 254.5L457.4 255.9L456.1 257.3ZM454.7 262.5L456.0 261.2L457.4 262.5L456.0 263.8ZM456.0 255.1L457.3 253.7L458.7 255.1L457.3 256.4ZM456.5 262.7L457.4 261.8L458.2 262.7L457.4 263.6ZM457.8 255.9L458.8 254.9L459.9 255.9L458.8 256.9ZM457.7 263.6L458.7 262.6L459.7 263.6L458.7 264.7ZM458.9 255.6L460.3 254.2L461.6 255.6L460.3 256.9ZM459.3 263.1L460.0 262.4L460.6 263.1L460.0 263.7ZM461.0 255.7L461.7 255.0L462.4 255.7L461.7 256.4ZM460.1 263.2L461.4 261.8L462.8 263.2L461.4 264.5ZM461.5 255.9L462.4 255.0L463.4 255.9L462.4 256.9ZM461.8 264.4L462.6 263.5L463.4 264.4L462.6 265.2ZM463.5 256.8L464.3 256.1L465.0 256.8L464.3 257.6ZM462.6 264.5L463.8 263.4L464.9 264.5L463.8 265.6ZM464.3 256.6L465.2 255.7L466.1 256.6L465.2 257.6ZM464.1 263.8L465.2 262.7L466.2 263.8L465.2 264.8ZM465.3 256.6L466.3 255.5L467.4 256.6L466.3 257.7ZM465.5 264.2L466.4 263.3L467.3 264.2L466.4 265.1ZM467.1 257.2L467.8 256.5L468.5 257.2L467.8 257.9ZM466.9 264.3L467.8 263.4L468.7 264.3L467.8 265.3ZM468.4 257.5L469.4 256.6L470.4 257.5L469.4 258.5ZM468.0 264.3L469.2 263.1L470.4 264.3L469.2 265.5ZM470.0 257.7L470.7 257.0L471.4 257.7L470.7 258.4ZM469.6 265.4L470.5 264.5L471.4 265.4L470.5 266.3ZM470.8 258.0L471.7 257.1L472.6 258.0L471.7 258.9ZM471.2 265.1L471.8 264.5L472.4 265.1L471.8 265.7ZM472.1 258.0L473.1 257.0L474.1 258.0L473.1 259.0ZM471.7 265.9L472.9 264.7L474.1 265.9L472.9 267.1ZM473.9 258.6L474.6 257.9L475.3 258.6L474.6 259.2ZM473.0 265.0L474.3 263.7L475.5 265.0L474.3 266.2ZM474.9 257.9L475.9 256.9L476.9 257.9L475.9 258.9ZM474.7 265.1L476.0 263.8L477.3 265.1L476.0 266.4ZM475.9 258.2L476.8 257.3L477.7 258.2L476.8 259.1ZM476.2 266.2L477.1 265.2L478.1 266.2L477.1 267.1ZM477.0 258.2L478.4 256.8L479.8 258.2L478.4 259.6ZM477.0 266.5L478.0 265.4L479.1 266.5L478.0 267.5ZM478.7 258.4L479.4 257.8L480.0 258.4L479.4 259.1ZM478.9 265.6L479.7 264.8L480.5 265.6L479.7 266.4ZM480.3 259.6L481.0 258.8L481.8 259.6L481.0 260.3ZM480.2 266.0L481.2 265.0L482.2 266.0L481.2 267.0ZM481.2 259.0L482.3 257.9L483.5 259.0L482.3 260.2ZM481.1 265.9L482.3 264.7L483.5 265.9L482.3 267.1ZM482.8 258.8L483.5 258.1L484.3 258.8L483.5 259.6ZM482.8 266.3L483.6 265.5L484.3 266.3L483.6 267.1ZM483.5 259.6L484.8 258.3L486.0 259.6L484.8 260.8ZM483.4 267.3L484.6 266.1L485.7 267.3L484.6 268.4ZM485.1 260.1L486.3 258.8L487.6 260.1L486.3 261.3ZM485.1 267.7L485.9 267.0L486.7 267.7L485.9 268.5ZM486.4 260.0L487.3 259.0L488.3 260.0L487.3 260.9ZM486.1 267.3L487.3 266.2L488.4 267.3L487.3 268.5ZM487.7 260.5L488.9 259.3L490.1 260.5L488.9 261.7ZM488.3 268.1L489.0 267.4L489.6 268.1L489.0 268.7ZM488.9 259.9L489.9 258.8L491.0 259.9L489.9 261.0ZM488.9 267.6L489.8 266.6L490.8 267.6L489.8 268.5ZM490.5 260.8L491.4 260.0L492.2 260.8L491.4 261.7ZM490.0 268.3L491.4 266.9L492.7 268.3L491.4 269.6ZM491.5 260.8L492.7 259.6L493.8 260.8L492.7 261.9ZM491.6 268.6L492.6 267.6L493.6 268.6L492.6 269.6ZM492.5 260.8L493.7 259.5L495.0 260.8L493.7 262.0ZM493.3 268.3L494.1 267.5L494.9 268.3L494.1 269.2ZM494.2 261.1L495.2 260.1L496.2 261.1L495.2 262.1ZM494.3 268.6L495.1 267.9L495.8 268.6L495.1 269.4ZM495.5 262.2L496.5 261.2L497.6 262.2L496.5 263.2ZM495.6 269.9L496.3 269.2L497.1 269.9L496.3 270.6ZM496.9 262.1L497.8 261.1L498.8 262.1L497.8 263.1ZM496.9 269.8L498.0 268.7L499.1 269.8L498.0 270.9ZM498.5 262.1L499.1 261.5L499.7 262.1L499.1 262.7ZM498.6 269.7L499.3 269.0L499.9 269.7L499.3 270.3ZM499.6 262.3L500.5 261.4L501.3 262.3L500.5 263.1ZM499.6 270.2L500.6 269.2L501.6 270.2L500.6 271.1ZM500.6 262.6L501.4 261.7L502.3 262.6L501.4 263.5ZM500.8 270.2L501.7 269.3L502.6 270.2L501.7 271.1ZM502.1 263.3L502.7 262.7L503.3 263.3L502.7 263.9ZM502.5 270.7L503.2 270.1L503.9 270.7L503.2 271.4ZM503.6 263.0L504.4 262.2L505.2 263.0L504.4 263.8ZM503.8 270.6L504.5 269.9L505.1 270.6L504.5 271.2ZM504.0 263.7L505.4 262.3L506.8 263.7L505.4 265.1ZM505.0 271.6L505.8 270.8L506.6 271.6L505.8 272.4ZM505.6 263.8L506.7 262.7L507.8 263.8L506.7 264.8ZM505.5 271.9L506.6 270.8L507.8 271.9L506.6 273.1ZM507.2 263.7L508.5 262.4L509.7 263.7L508.5 265.0ZM507.4 271.4L508.5 270.3L509.6 271.4L508.5 272.4ZM508.4 264.5L509.3 263.7L510.1 264.5L509.3 265.4ZM508.0 272.1L509.3 270.8L510.5 272.1L509.3 273.3ZM510.1 264.0L511.0 263.1L511.9 264.0L511.0 265.0ZM509.9 271.4L511.0 270.2L512.2 271.4L511.0 272.5ZM511.2 264.7L512.0 263.8L512.8 264.7L512.0 265.5ZM511.2 272.4L512.3 271.3L513.5 272.4L512.3 273.5ZM512.2 265.0L513.5 263.6L514.9 265.0L513.5 266.3ZM512.5 272.6L513.5 271.6L514.6 272.6L513.5 273.6ZM513.7 264.9L514.6 264.0L515.5 264.9L514.6 265.8ZM514.1 271.8L514.9 271.0L515.7 271.8L514.9 272.6ZM514.9 265.6L516.0 264.5L517.1 265.6L516.0 266.7ZM514.9 273.1L516.0 272.1L517.0 273.1L516.0 274.2ZM516.0 265.0L517.4 263.7L518.7 265.0L517.4 266.3ZM515.8 273.1L517.1 271.8L518.4 273.1L517.1 274.4ZM517.6 265.4L518.9 264.1L520.2 265.4L518.9 266.6ZM517.5 273.1L518.4 272.2L519.3 273.1L518.4 274.0ZM519.3 265.8L520.1 265.0L520.8 265.8L520.1 266.6ZM518.6 272.8L519.8 271.6L521.1 272.8L519.8 274.1ZM520.0 266.2L521.3 264.9L522.6 266.2L521.3 267.5ZM520.1 273.5L521.2 272.4L522.2 273.5L521.2 274.5ZM521.4 265.7L522.4 264.7L523.4 265.7L522.4 266.7ZM521.3 273.2L522.7 271.9L524.0 273.2L522.7 274.5ZM523.2 266.1L523.9 265.3L524.7 266.1L523.9 266.8ZM522.5 274.0L523.6 272.9L524.8 274.0L523.6 275.1ZM524.0 266.5L525.0 265.5L526.0 266.5L525.0 267.6ZM524.2 274.2L525.2 273.3L526.1 274.2L525.2 275.2ZM524.8 266.8L526.2 265.4L527.6 266.8L526.2 268.1ZM525.1 274.2L526.5 272.9L527.9 274.2L526.5 275.6ZM526.1 266.7L527.4 265.4L528.7 266.7L527.4 268.0ZM526.7 274.0L527.8 272.9L528.8 274.0L527.8 275.1ZM527.7 267.2L528.8 266.1L529.9 267.2L528.8 268.3ZM528.5 274.8L529.3 274.0L530.1 274.8L529.3 275.6ZM529.5 267.5L530.5 266.5L531.4 267.5L530.5 268.5ZM529.1 275.0L530.1 274.0L531.1 275.0L530.1 276.0Z" fill="#5894d3" stroke="#4f8ac9" stroke-width="0.5"/>
<defs><filter id="sh" x="-10%" y="-30%" width="120%" height="160%">
<feGaussianBlur in="SourceAlpha" stdDeviation="0.9" result="b"/>
<feOffset in="b" dx="0.3" dy="0.4" result="o"/>
<feComponentTransfer in="o" result="s"><feFuncA type="linear" slope="0.4"/></feComponentTransfer>
<feMerge><feMergeNode in="s"/><feMergeNode in="SourceGraphic"/></feMerge>
</filter></defs>
<g fill="#fff" fill-opacity="0.85" filter="url(#sh)">
<circle cx="541.4" cy="429.2" r="7.5"/>
<circle cx="542.8" cy="416.6" r="3.3"/>
<circle cx="553.1" cy="419.7" r="5.6"/>
<circle cx="555.2" cy="431.5" r="4"/>
<text x="560" y="433.7" font-family="Liberation Sans, Arial, sans-serif" font-size="29" font-weight="bold" textLength="65" lengthAdjust="spacingAndGlyphs">Avito</text>
</g>
</svg>
</body></html>
